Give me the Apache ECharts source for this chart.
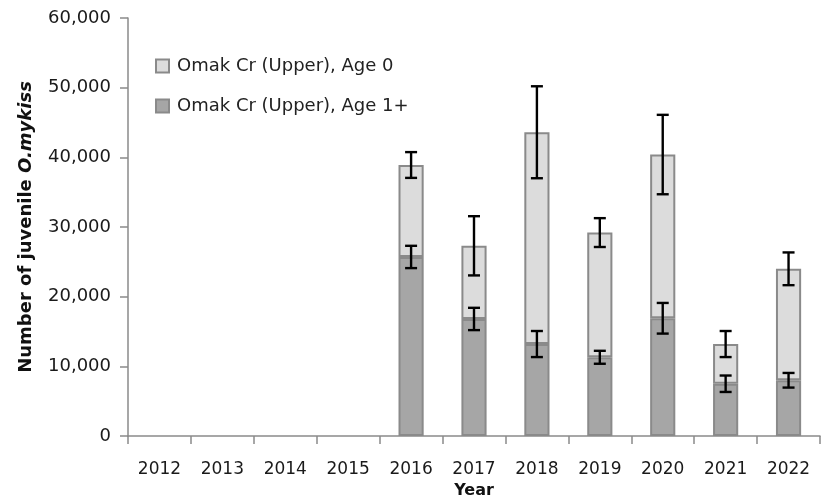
<!DOCTYPE html>
<html>
<head>
<meta charset="utf-8">
<script src="https://cdn.jsdelivr.net/npm/echarts@6/dist/echarts.min.js"></script>
<style>
  html, body { margin: 0; padding: 0; background: #fff; }
  #chart { width: 822px; height: 498px; }
</style>
</head>
<body>
<div id="chart"></div>
<script>
  // data
  var years = ['2012', '2013', '2014', '2015', '2016', '2017', '2018', '2019', '2020', '2021', '2022'];
  var age1Plus = [null, null, null, null, 25700, 16800, 13200, 11300, 16900, 7500, 8000];
  var age0 = [null, null, null, null, 13200, 10500, 30400, 17900, 23500, 5700, 16000];
  // error bar half widths (age 1+ at its own top, total at stack top)
  var age1Err = [null, null, null, null, 1600, 1600, 1870, 930, 2200, 1180, 1050];
  var totalErr = [null, null, null, null, 1850, 4250, 6600, 2070, 5700, 1870, 2350];
  var yTicks = [0, 10000, 20000, 30000, 40000, 50000, 60000];

  var errData = [];
  for (var i = 0; i < years.length; i++) {
    if (age1Plus[i] == null) continue;
    var tot = age1Plus[i] + age0[i];
    errData.push([i, age1Plus[i] - age1Err[i], age1Plus[i] + age1Err[i]]);
    errData.push([i, tot - totalErr[i], tot + totalErr[i]]);
  }

  var font = '"DejaVu Sans", sans-serif';
  var chart = echarts.init(document.getElementById('chart'));

  var option = {
    animation: false,
    textStyle: { fontFamily: font },
    grid: { left: 128, right: 2, top: 18, bottom: 62, outerBoundsMode: 'none', containLabel: false },
    legend: {
      orient: 'vertical',
      left: 150,
      top: 52,
      itemGap: 22,
      itemWidth: 13,
      itemHeight: 13,
      icon: 'rect',
      data: ['Omak Cr (Upper), Age 0', 'Omak Cr (Upper), Age 1+'],
      textStyle: { fontSize: 18, color: '#222', fontFamily: font, padding: [0, 0, 0, 3] }
    },
    xAxis: {
      type: 'category',
      data: years,
      name: 'Year',
      nameLocation: 'middle',
      nameGap: 41,
      nameTextStyle: { fontWeight: 'bold', fontSize: 16, color: '#111', fontFamily: font },
      axisLine: { lineStyle: { color: '#8a8a8a', width: 1.5 } },
      axisTick: { show: true, length: 8, lineStyle: { color: '#8a8a8a', width: 1.5 } },
      axisLabel: { fontSize: 17, color: '#1a1a1a', margin: 25, fontFamily: font }
    },
    yAxis: {
      type: 'value',
      min: yTicks[0],
      max: yTicks[yTicks.length - 1],
      interval: 10000,
      name: '{b|Number of juvenile }{i|O.mykiss}',
      nameLocation: 'middle',
      nameGap: 93,
      nameTextStyle: {
        rich: {
          b: { fontWeight: 'bold', fontSize: 18, color: '#111', fontFamily: font },
          i: { fontWeight: 'bold', fontStyle: 'italic', fontSize: 18, color: '#111', fontFamily: font }
        }
      },
      splitLine: { show: false },
      axisLine: { show: true, lineStyle: { color: '#8a8a8a', width: 1.5 } },
      axisTick: { show: true, length: 8, lineStyle: { color: '#8a8a8a', width: 1.5 } },
      axisLabel: {
        fontSize: 18, color: '#1a1a1a', margin: 17, fontFamily: font,
        formatter: function (v) { return v.toLocaleString('en-US'); }
      }
    },
    series: [
      {
        name: 'Omak Cr (Upper), Age 1+',
        type: 'bar',
        stack: 'total',
        barWidth: '40%',
        data: age1Plus,
        itemStyle: { color: '#a6a6a6', borderColor: '#8a8a8a', borderWidth: 2 }
      },
      {
        name: 'Omak Cr (Upper), Age 0',
        type: 'bar',
        stack: 'total',
        barWidth: '40%',
        data: age0,
        itemStyle: { color: '#dcdcdc', borderColor: '#8a8a8a', borderWidth: 2 }
      },
      {
        type: 'custom',
        name: 'err',
        data: errData,
        encode: { x: 0, y: [1, 2] },
        z: 10,
        renderItem: function (params, api) {
          var lo = api.coord([api.value(0), api.value(1)]);
          var hi = api.coord([api.value(0), api.value(2)]);
          var cap = 6;
          var st = { stroke: '#000', lineWidth: 2.4 };
          return {
            type: 'group',
            children: [
              { type: 'line', shape: { x1: lo[0], y1: lo[1], x2: hi[0], y2: hi[1] }, style: st },
              { type: 'line', shape: { x1: lo[0] - cap, y1: lo[1], x2: lo[0] + cap, y2: lo[1] }, style: st },
              { type: 'line', shape: { x1: hi[0] - cap, y1: hi[1], x2: hi[0] + cap, y2: hi[1] }, style: st }
            ]
          };
        }
      }
    ]
  };

  chart.setOption(option);
</script>
</body>
</html>
